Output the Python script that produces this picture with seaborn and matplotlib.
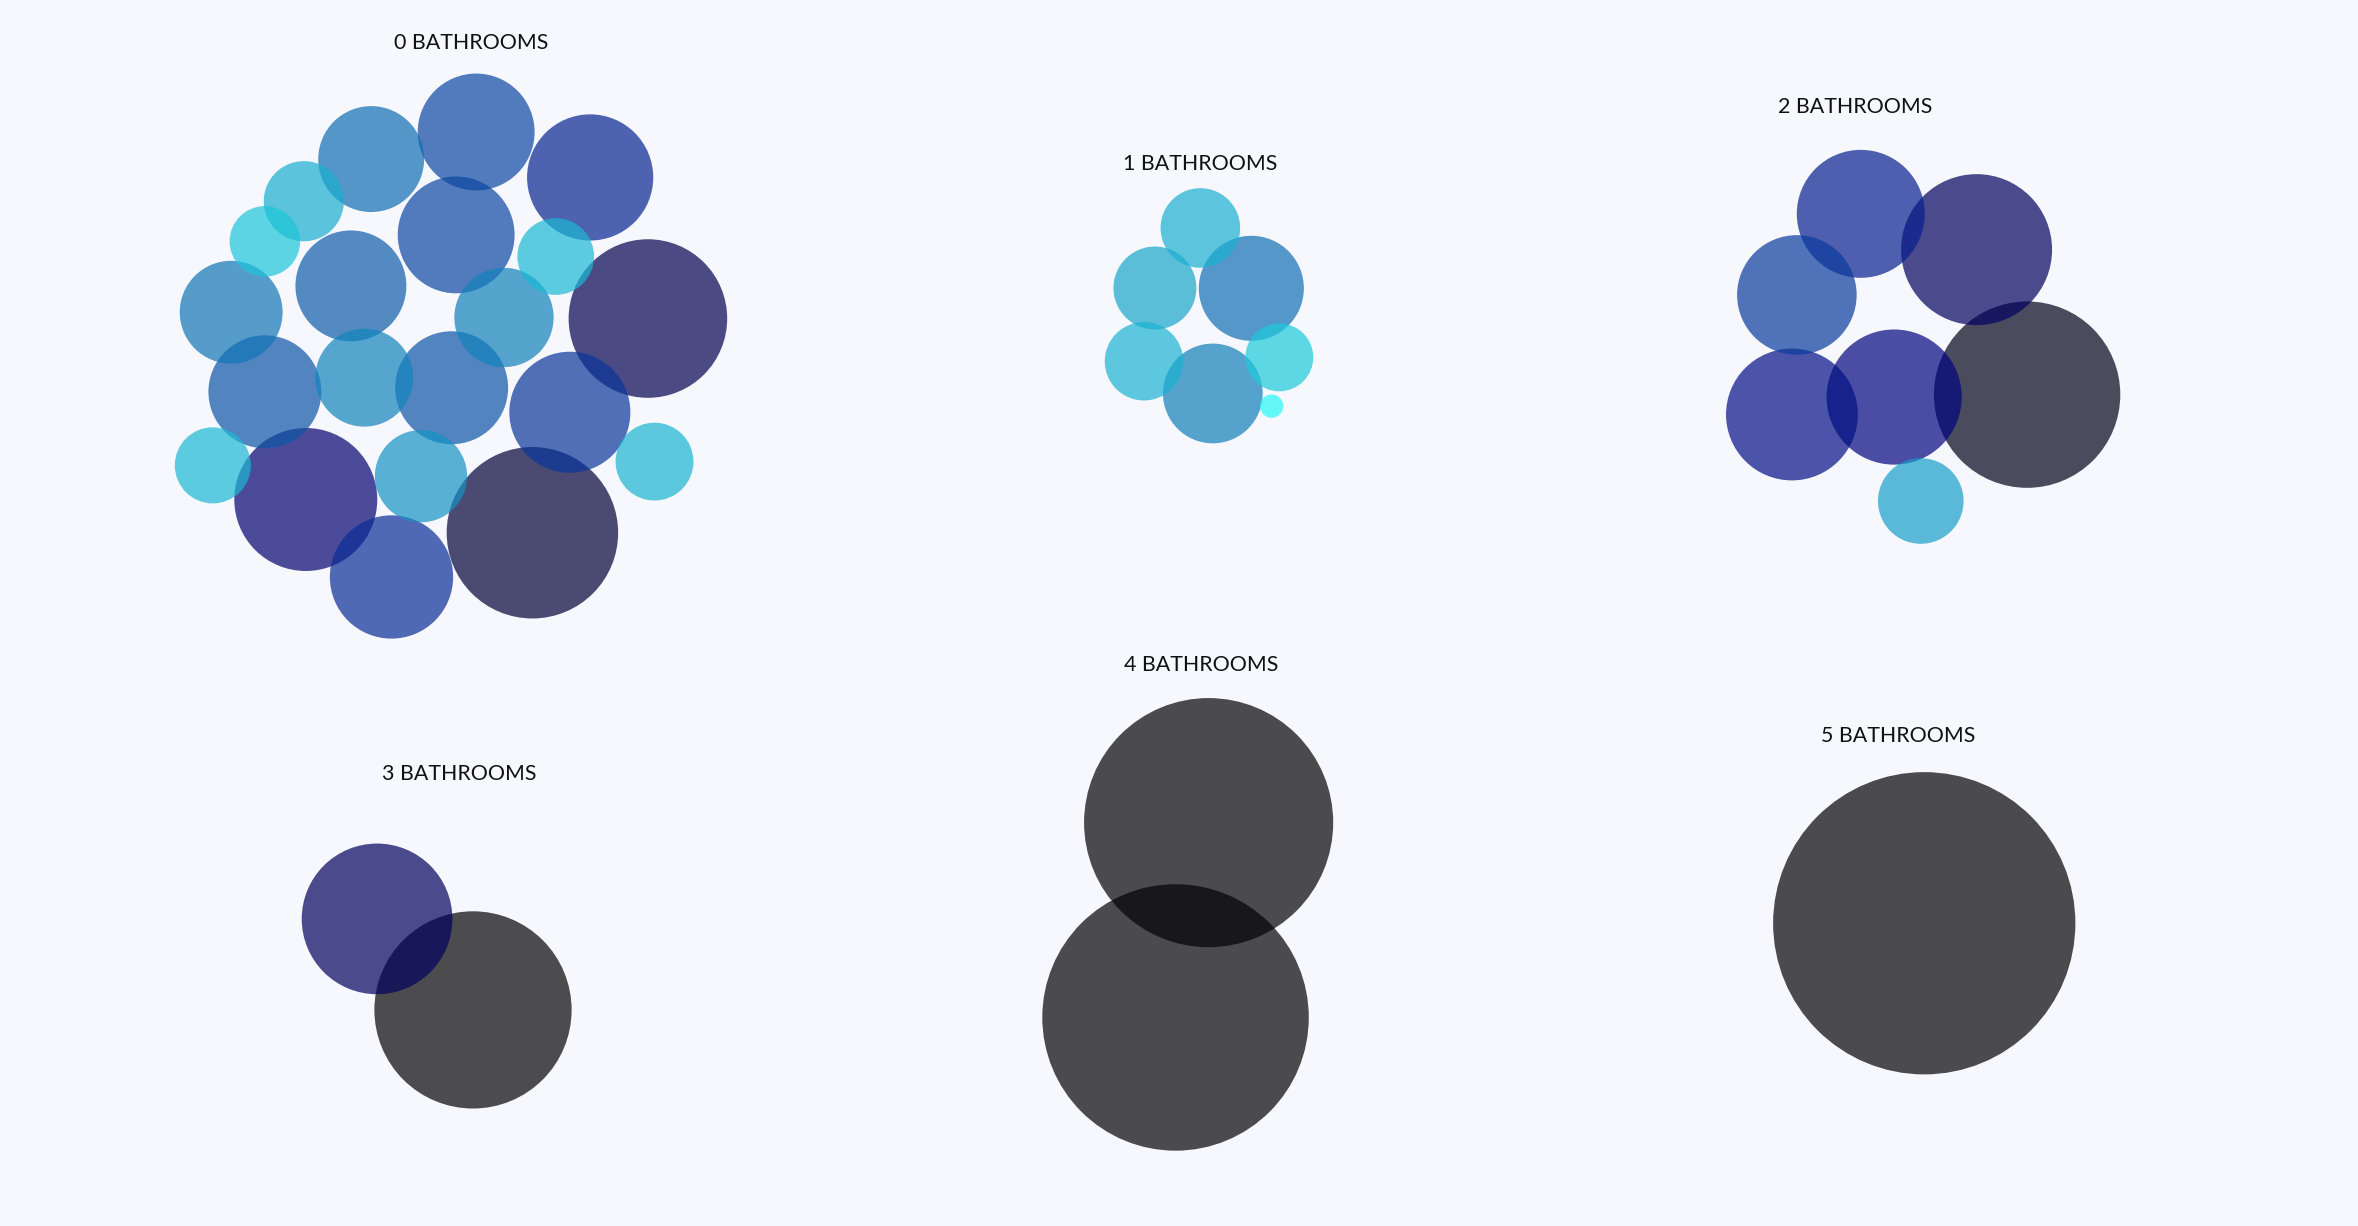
"""Bubble clusters of listings grouped by number of bathrooms."""

import numpy as np
import pandas as pd
import matplotlib.pyplot as plt
from matplotlib.colors import LinearSegmentedColormap
import seaborn as sns

BG = "#F7F8FD"
W, H = 1568, 815          # canvas units
FIG_W, FIG_H, DPI = 2358, 1226, 100

bathrooms = [0, 1, 2, 3, 4, 5]

# bubble positions, as offsets from the centre of each group's grid cell
x_off = [
    [-14.5, 55.3, 131.1, -59.3, -85.2, 42.0, 108.2, -28.0, 169.5, -107.6, 73.8,
     -19.1, -85.2, 39.0, 117.6, -119.8, -58.0, 18.6, 173.9, 92.7, -1.0],
    [14.2, -16.0, 48.1, -23.3, 66.7, 22.5, 61.6],
    [-69.3, 7.7, -111.8, -115.1, -47.1, 41.3, -29.4],
    [-10.6, 53.2],
    [19.7, -2.3],
    [-27.1],
]
y_off = [
    [-98.0, -116.0, -85.8, -70.0, -43.3, -47.6, -33.2, -13.7, 8.0, 3.8, 7.3,
     47.3, 56.7, 54.0, 70.3, 105.6, 128.3, 112.8, 103.1, 150.4, 179.8],
    [-52.2, -12.3, -12.1, 36.4, 33.8, 57.8, 66.2],
    [-61.6, -37.8, -7.7, 71.8, 60.2, 58.6, 129.3],
    [-0.4, 60.1],
    [-64.4, 65.1],
    [2.5],
]
# bubble value (area-proportional), also drives the colour
values = [
    [124, 151, 176, 71, 55, 151, 65, 136, 278, 117, 109,
     106, 141, 141, 162, 64, 226, 94, 67, 325, 168],
    [70, 76, 122, 68, 51, 110, 6],
    [181, 252, 158, 192, 202, 384, 81],
    [251, 430],
    [686, 785],
    [1010],
]

# group label offsets from the cell centre
label_dx = [51.7, 14.4, -73.1, 43.8, 15.0, -44.7]
label_dy = [-175.3, -94.5, -132.4, -96.5, -169.3, -121.8]

# colour ramp: cyan -> blue -> navy -> black
HUE_MAX = 430
ramp = [
    (0, "#26FEF8"), (55, "#1DC5D8"), (80, "#19A0C9"), (110, "#127FBA"),
    (140, "#0E56A7"), (165, "#0A3298"), (200, "#020680"), (250, "#030160"),
    (325, "#020138"), (430, "#050407"),
]
cmap = LinearSegmentedColormap.from_list("bath", [(v / HUE_MAX, c) for v, c in ramp])
cmap.set_over("#030204")

rows = []
for i, b in enumerate(bathrooms):
    col, row = i % 3, i // 3
    cx, cy = W * (col + 0.5) / 3, H * (row + 0.5) / 2
    for dx, dy, v in zip(x_off[i], y_off[i], values[i]):
        rows.append({"bathrooms": b, "x": cx + dx, "y": cy + dy, "value": v})
# big bubbles underneath, small ones on top
df = pd.DataFrame(rows).sort_values("value", ascending=False, kind="stable")

sns.set_theme(style="white")
plt.rcParams["font.family"] = ["Lato", "DejaVu Sans"]

fig = plt.figure(figsize=(FIG_W / DPI, FIG_H / DPI), dpi=DPI, facecolor=BG)
ax = fig.add_axes([0, 0, 1, 1])
ax.set_facecolor(BG)

# marker area in pt^2 for a bubble: radius (units) = sqrt(10 * value)
pt_per_unit = FIG_W / W * 72 / DPI
SIZE_MAX = 1100
s_max = 40 * SIZE_MAX * pt_per_unit ** 2

sns.scatterplot(
    data=df, x="x", y="y", hue="value", size="value",
    palette=cmap, hue_norm=(0, HUE_MAX),
    sizes=(0, s_max), size_norm=(0, SIZE_MAX),
    alpha=0.705, linewidth=0, edgecolor="none", legend=False, ax=ax,
)
ax.set_xlim(0, W)
ax.set_ylim(H, 0)
ax.axis("off")

for i, b in enumerate(bathrooms):
    col, row = i % 3, i // 3
    cx, cy = W * (col + 0.5) / 3, H * (row + 0.5) / 2
    ax.text(cx + label_dx[i], cy + label_dy[i], f"{b} BATHROOMS",
            ha="center", va="center", fontsize=15.4, color="#111111")

fig.savefig("out.png", dpi=DPI, facecolor=BG)
